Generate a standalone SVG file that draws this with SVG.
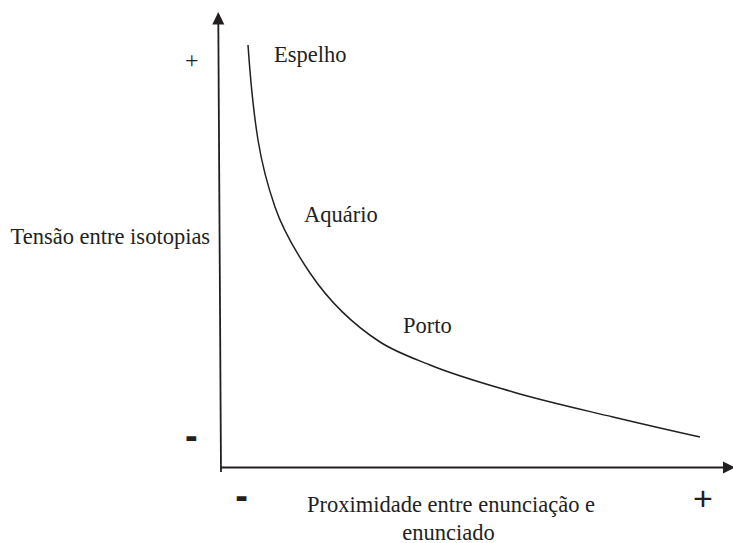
<svg xmlns="http://www.w3.org/2000/svg" width="733" height="543" viewBox="0 0 733 543">
<style>
.lbl{font-family:'Liberation Serif','Times New Roman',Times,serif;font-size:22.5px;fill:#231f20}
.sgn{font-family:'Liberation Sans',Arial,sans-serif;fill:#231f20}
.axis{stroke:#231f20;stroke-width:1.8;fill:none}
.curve{stroke:#231f20;stroke-width:1.5;fill:none}
.head{fill:#231f20}
</style>
<rect width="733" height="543" fill="#ffffff"/>
<g id="connectors">
<g id="y-axis">
<line class="axis" x1="218.3" y1="22" x2="221" y2="472"/>
<polygon class="head" points="218.3,12 224.3,24.5 212.3,24.5"/>
</g>
<g id="x-axis">
<line class="axis" x1="220.5" y1="467.5" x2="726" y2="467.5"/>
<polygon class="head" points="735,467.5 723,461.5 723,473.5"/>
</g>
<path id="curve" class="curve" d="M248,45 C250.2,76.7 252.9,108.6 258,140 C261.7,162.7 267.5,185.3 275,207 C283.1,230.5 296.1,252.4 310,273 C328.3,300.2 352.5,324.1 380,342 C395.4,352 413.1,358.1 430,365 C456.9,376 485.1,383.8 513,392 C546,401.7 579.6,409 613,417 C642,423.9 670.9,430.6 700,437"/>
</g>
<g id="node-espelho"><text class="lbl" x="274" y="62">Espelho</text></g>
<g id="node-aquario"><text class="lbl" x="304" y="221.5">Aquário</text></g>
<g id="node-porto"><text class="lbl" x="403" y="333">Porto</text></g>
<g id="y-label"><text class="lbl" x="10.5" y="244.3">Tensão entre isotopias</text></g>
<g id="x-label">
<text class="lbl" x="451" y="512" text-anchor="middle">Proximidade entre enunciação e</text>
<text class="lbl" x="448.5" y="539.5" text-anchor="middle">enunciado</text>
</g>
<g id="signs">
<text class="lbl" x="191.7" y="67.8" text-anchor="middle" style="font-size:24px">+</text>
<text class="sgn" x="191.3" y="449.3" text-anchor="middle" style="font-size:38px;font-weight:bold">-</text>
<text class="sgn" x="241.7" y="509.3" text-anchor="middle" style="font-size:38px;font-weight:bold">-</text>
<text class="sgn" x="703" y="510.4" text-anchor="middle" style="font-size:34px">+</text>
</g>
</svg>
